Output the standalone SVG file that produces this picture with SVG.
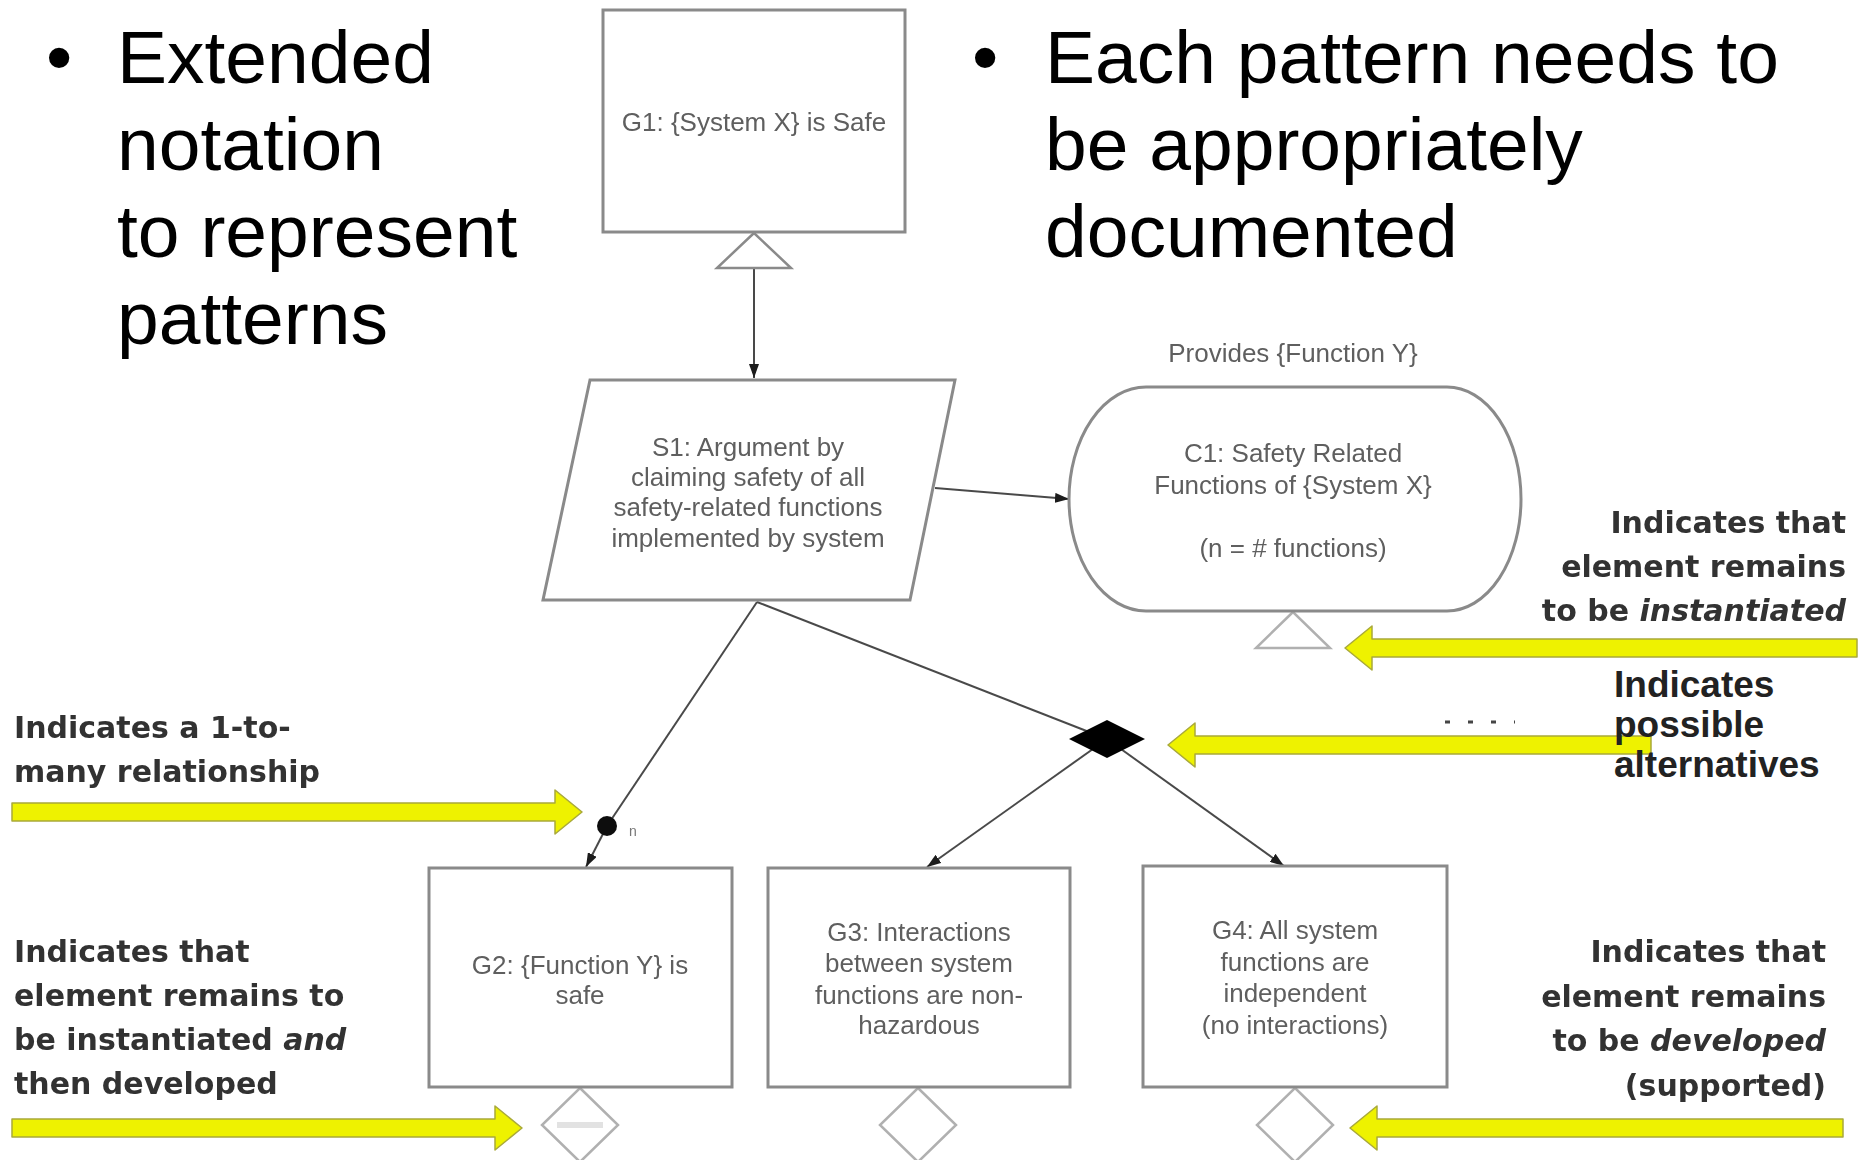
<svg xmlns="http://www.w3.org/2000/svg" width="1869" height="1160" viewBox="0 0 1869 1160">
  <defs>
    <style>
      .bullet { font-family: "Liberation Sans", Arial, sans-serif; font-size: 75px; fill: #000; }
      .box { fill: #fff; stroke: #8a8a8a; stroke-width: 3; }
      .node-text { font-family: "Liberation Sans", Arial, sans-serif; font-size: 26px; fill: #5e5e5e; text-anchor: middle; }
      .wire { stroke: #4a4a4a; stroke-width: 2; fill: none; }
      .hollow { fill: #fff; stroke: #8a8a8a; stroke-width: 2.5; }
      .faint { fill: #fff; stroke: #b0b0b0; stroke-width: 2.5; }
      .note { font-family: "DejaVu Sans", Verdana, sans-serif; font-weight: bold; font-size: 30px; fill: #333; }
      .note-r { text-anchor: end; }
      .callout { font-family: "Liberation Sans", Arial, sans-serif; font-weight: bold; font-size: 37px; fill: #222; }
      .pointer { fill: #eef200; stroke: #a9a93a; stroke-width: 1.5; stroke-linejoin: round; }
    </style>
    <marker id="head" viewBox="0 0 14 10" refX="14" refY="5" markerWidth="14" markerHeight="10" markerUnits="userSpaceOnUse" orient="auto">
      <path d="M0,0 L14,5 L0,10 Z" fill="#1a1a1a"/>
    </marker>
    <filter id="soft" x="-5%" y="-5%" width="110%" height="110%">
      <feGaussianBlur stdDeviation="0.6"/>
    </filter>
  </defs>

  <rect width="1869" height="1160" fill="#fff"/>

  <!-- slide bullets -->
  <g id="bullets-left">
    <text class="bullet" x="46" y="83">•</text>
    <text class="bullet" x="117" y="83">Extended</text>
    <text class="bullet" x="117" y="170">notation</text>
    <text class="bullet" x="117" y="257">to represent</text>
    <text class="bullet" x="117" y="344">patterns</text>
  </g>
  <g id="bullets-right">
    <text class="bullet" x="972" y="83">•</text>
    <text class="bullet" x="1045" y="83">Each pattern needs to</text>
    <text class="bullet" x="1045" y="170">be appropriately</text>
    <text class="bullet" x="1045" y="257">documented</text>
  </g>

  <g id="diagram" filter="url(#soft)">
    <!-- connectors -->
    <g id="connectors">
      <line class="wire" x1="754" y1="268" x2="754" y2="378" marker-end="url(#head)"/>
      <line class="wire" x1="935" y1="488" x2="1069" y2="499" marker-end="url(#head)"/>
      <line class="wire" x1="757" y1="602" x2="607" y2="826"/>
      <line class="wire" x1="607" y1="826" x2="586" y2="867" marker-end="url(#head)"/>
      <line class="wire" x1="757" y1="602" x2="1107" y2="739"/>
      <line class="wire" x1="1107" y1="739" x2="927" y2="867" marker-end="url(#head)"/>
      <line class="wire" x1="1107" y1="739" x2="1284" y2="866" marker-end="url(#head)"/>
      <!-- multiplicity dot -->
      <circle cx="607" cy="826" r="10" fill="#111"/>
      <text x="629" y="836" font-family="Liberation Sans, Arial, sans-serif" font-size="14" fill="#777">n</text>
      <!-- choice -->
      <polygon points="1107,720 1145,739 1107,758 1069,739" fill="#050505"/>
      <!-- uninstantiated markers -->
      <polygon class="hollow" points="754,233 717,268 791,268"/>
      <polygon class="faint" points="1293,612 1256,648 1330,648"/>
      <!-- undeveloped markers -->
      <polygon class="faint" points="580,1088 618,1125 580,1162 542,1125"/>
      <line x1="557" y1="1125" x2="603" y2="1125" stroke="#e2e2e2" stroke-width="6"/>
      <polygon class="faint" points="918,1088 956,1125 918,1162 880,1125"/>
      <polygon class="faint" points="1295,1088 1333,1125 1295,1162 1257,1125"/>
    </g>

    <g id="G1">
      <rect class="box" x="603" y="10" width="302" height="222"/>
      <text class="node-text" x="754" y="131">G1: {System X} is Safe</text>
    </g>

    <g id="S1">
      <polygon class="box" points="590,380 955,380 910,600 543,600"/>
      <text class="node-text" x="748" y="456">S1: Argument by</text>
      <text class="node-text" x="748" y="486">claiming safety of all</text>
      <text class="node-text" x="748" y="516">safety-related functions</text>
      <text class="node-text" x="748" y="547">implemented by system</text>
    </g>

    <g id="C1">
      <text class="node-text" x="1293" y="362" font-size="28">Provides {Function Y}</text>
      <path class="box" d="M1146,387 H1447 A74,112 0 0 1 1447,611 H1146 A77,112 0 0 1 1146,387 Z"/>
      <text class="node-text" x="1293" y="462">C1: Safety Related</text>
      <text class="node-text" x="1293" y="494">Functions of {System X}</text>
      <text class="node-text" x="1293" y="557">(n = # functions)</text>
    </g>

    <g id="G2">
      <rect class="box" x="429" y="868" width="303" height="219"/>
      <text class="node-text" x="580" y="974">G2: {Function Y} is</text>
      <text class="node-text" x="580" y="1004">safe</text>
    </g>

    <g id="G3">
      <rect class="box" x="768" y="868" width="302" height="219"/>
      <text class="node-text" x="919" y="941">G3: Interactions</text>
      <text class="node-text" x="919" y="972">between system</text>
      <text class="node-text" x="919" y="1004">functions are non-</text>
      <text class="node-text" x="919" y="1034">hazardous</text>
    </g>

    <g id="G4">
      <rect class="box" x="1143" y="866" width="304" height="221"/>
      <text class="node-text" x="1295" y="939">G4: All system</text>
      <text class="node-text" x="1295" y="971">functions are</text>
      <text class="node-text" x="1295" y="1002">independent</text>
      <text class="node-text" x="1295" y="1034">(no interactions)</text>
    </g>

    <!-- annotations with yellow pointers -->
    <g id="note-instantiate">
      <text class="note note-r" x="1846" y="533">Indicates that</text>
      <text class="note note-r" x="1846" y="577">element remains</text>
      <text class="note note-r" x="1846" y="621">to be <tspan font-style="italic">instantiated</tspan></text>
      <path class="pointer" d="M1345,648 L1372,626 L1372,639 L1857,639 L1857,657 L1372,657 L1372,670 Z"/>
    </g>

    <g id="note-one-to-many">
      <text class="note" x="14" y="738">Indicates a 1-to-</text>
      <text class="note" x="14" y="782">many relationship</text>
      <path class="pointer" d="M582,812 L555,790 L555,803 L12,803 L12,821 L555,821 L555,834 Z"/>
    </g>

    <g id="note-alternatives">
      <path class="pointer" d="M1168,745 L1195,723 L1195,736 L1651,736 L1651,754 L1195,754 L1195,767 Z"/>
      <line x1="1445" y1="722" x2="1515" y2="722" stroke="#444" stroke-width="3" stroke-dasharray="5,18"/>
    </g>

    <g id="note-inst-dev">
      <text class="note" x="14" y="962">Indicates that</text>
      <text class="note" x="14" y="1006">element remains to</text>
      <text class="note" x="14" y="1050">be instantiated <tspan font-style="italic">and</tspan></text>
      <text class="note" x="14" y="1094">then developed</text>
      <path class="pointer" d="M522,1128 L495,1106 L495,1119 L12,1119 L12,1137 L495,1137 L495,1150 Z"/>
    </g>

    <g id="note-develop">
      <text class="note note-r" x="1826" y="962">Indicates that</text>
      <text class="note note-r" x="1826" y="1007">element remains</text>
      <text class="note note-r" x="1826" y="1051">to be <tspan font-style="italic">developed</tspan></text>
      <text class="note note-r" x="1826" y="1096">(supported)</text>
      <path class="pointer" d="M1350,1128 L1377,1106 L1377,1119 L1843,1119 L1843,1137 L1377,1137 L1377,1150 Z"/>
    </g>
  </g>

  <g id="callout-alternatives">
    <text class="callout" x="1614" y="697">Indicates</text>
    <text class="callout" x="1614" y="737">possible</text>
    <text class="callout" x="1614" y="777">alternatives</text>
  </g>
</svg>
